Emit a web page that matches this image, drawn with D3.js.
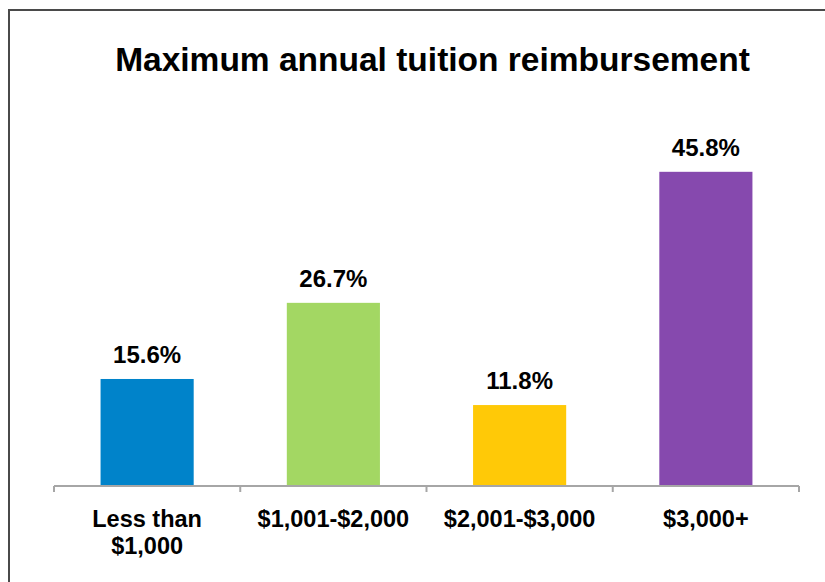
<!DOCTYPE html>
<html>
<head>
<meta charset="utf-8">
<script src="https://cdn.jsdelivr.net/npm/d3@7"></script>
<style>
  html, body { margin: 0; padding: 0; background: #ffffff; }
  svg { display: block; font-family: "Liberation Sans", Arial, sans-serif; }
</style>
</head>
<body>
<script>
// Tuition reimbursement brackets and share of employers in each
const categories = [["Less than", "$1,000"], ["$1,001-$2,000"], ["$2,001-$3,000"], ["$3,000+"]];
const values = [15.6, 26.7, 11.8, 45.8];
const colors = ["#0083CA", "#A3D763", "#FFC907", "#8649AE"];
const title = "Maximum annual tuition reimbursement";

const W = 825, H = 582;
const svg = d3.select("body").append("svg").attr("width", W).attr("height", H);

// Frame (only top and left edges fall inside the window)
svg.append("rect")
  .attr("x", 9).attr("y", 10)
  .attr("width", W + 20).attr("height", H + 20)
  .attr("fill", "#ffffff")
  .attr("stroke", "#4a4a4a").attr("stroke-width", 2);

svg.append("text")
  .attr("x", 432.5).attr("y", 71)
  .attr("text-anchor", "middle")
  .attr("font-size", 33.5).attr("font-weight", "bold")
  .attr("fill", "#000")
  .text(title);

const x = d3.scaleBand()
  .domain(d3.range(categories.length))
  .range([54, 799])
  .paddingInner(0.5).paddingOuter(0.25);

const y = d3.scaleLinear().domain([0, 50]).range([486, 143]);

// Bars
svg.append("g").selectAll("rect")
  .data(values)
  .join("rect")
  .attr("x", (d, i) => x(i))
  .attr("width", x.bandwidth())
  .attr("y", d => y(d))
  .attr("height", d => y(0) - y(d))
  .attr("fill", (d, i) => colors[i]);

// Value labels
svg.append("g").selectAll("text")
  .data(values)
  .join("text")
  .attr("x", (d, i) => x(i) + x.bandwidth() / 2)
  .attr("y", d => y(d) - 16)
  .attr("text-anchor", "middle")
  .attr("font-size", 24).attr("font-weight", "bold")
  .attr("fill", "#000")
  .text(d => d.toFixed(1) + "%");

// Category axis with tick marks on the band boundaries
const axisG = svg.append("g");
axisG.append("line")
  .attr("x1", x.range()[0]).attr("x2", x.range()[1])
  .attr("y1", y(0)).attr("y2", y(0))
  .attr("stroke", "#a6a6a6").attr("stroke-width", 2);

const bounds = d3.range(categories.length + 1).map(i => x.range()[0] + i * x.step());
axisG.selectAll("line.tick")
  .data(bounds)
  .join("line")
  .attr("class", "tick")
  .attr("x1", d => d).attr("x2", d => d)
  .attr("y1", y(0)).attr("y2", y(0) + 6)
  .attr("stroke", "#a6a6a6").attr("stroke-width", 2);

const labels = svg.append("g").selectAll("text")
  .data(categories)
  .join("text")
  .attr("x", (d, i) => x(i) + x.bandwidth() / 2)
  .attr("y", 527)
  .attr("text-anchor", "middle")
  .attr("font-size", 23.5).attr("font-weight", "bold")
  .attr("fill", "#000");

labels.selectAll("tspan")
  .data(d => d)
  .join("tspan")
  .attr("x", function () { return d3.select(this.parentNode).attr("x"); })
  .attr("dy", (d, i) => i === 0 ? 0 : 27)
  .text(d => d);
</script>
</body>
</html>
